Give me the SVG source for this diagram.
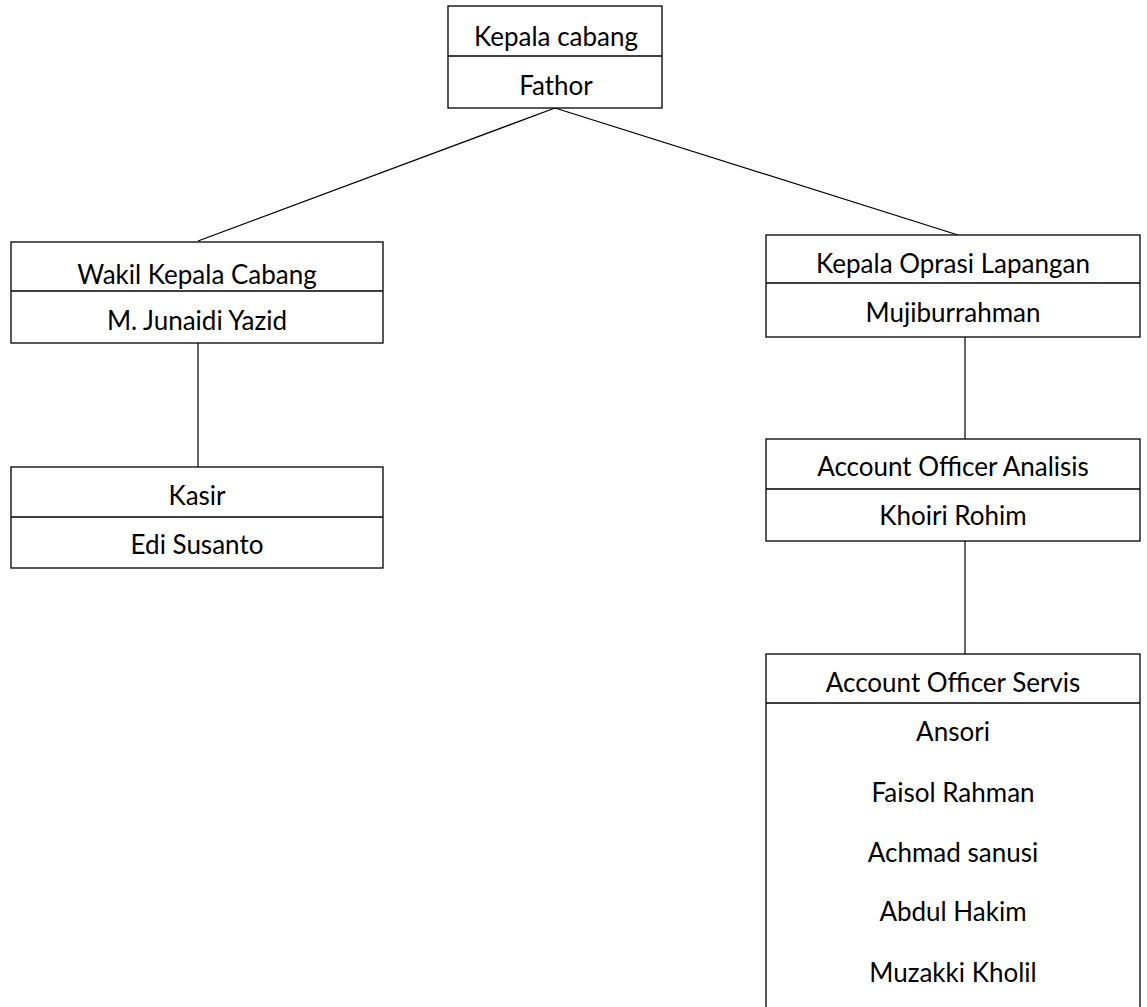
<svg xmlns="http://www.w3.org/2000/svg" width="1147" height="1007" viewBox="0 0 1147 1007">
<style>
.box{fill:#fff;stroke:#000;stroke-width:1.3}
.div{stroke:#000;stroke-width:1.3}
.t{font-family:Lato,"Liberation Sans",sans-serif;font-size:26px;fill:#000;text-anchor:middle}
.c{stroke:#000;stroke-width:1.2;fill:none}
</style>
<rect width="1147" height="1007" fill="#fff"/>
<g id="connectors">
<line class="c" x1="555" y1="108" x2="198" y2="241"/>
<line class="c" x1="555" y1="108" x2="958" y2="235"/>
<line class="c" x1="198" y1="343" x2="198" y2="467"/>
<line class="c" x1="965" y1="337" x2="965" y2="439"/>
<line class="c" x1="965" y1="541" x2="965" y2="654"/>
</g>
<g id="kepala-cabang">
<rect class="box" x="448" y="6" width="214" height="102"/>
<line class="div" x1="448" y1="56" x2="662" y2="56"/>
<text class="t" x="556" y="46">Kepala cabang</text>
<text class="t" x="556" y="95">Fathor</text>
</g>
<g id="wakil-kepala-cabang">
<rect class="box" x="11" y="242" width="372" height="101"/>
<line class="div" x1="11" y1="291" x2="383" y2="291"/>
<text class="t" x="197" y="284">Wakil Kepala Cabang</text>
<text class="t" x="197" y="330">M. Junaidi Yazid</text>
</g>
<g id="kasir">
<rect class="box" x="11" y="467" width="372" height="101"/>
<line class="div" x1="11" y1="517" x2="383" y2="517"/>
<text class="t" x="197" y="505">Kasir</text>
<text class="t" x="197" y="554">Edi Susanto</text>
</g>
<g id="kepala-oprasi-lapangan">
<rect class="box" x="766" y="235" width="374" height="102"/>
<line class="div" x1="766" y1="283" x2="1140" y2="283"/>
<text class="t" x="953" y="273">Kepala Oprasi Lapangan</text>
<text class="t" x="953" y="322">Mujiburrahman</text>
</g>
<g id="account-officer-analisis">
<rect class="box" x="766" y="439" width="374" height="102"/>
<line class="div" x1="766" y1="489" x2="1140" y2="489"/>
<text class="t" x="953" y="476">Account Officer Analisis</text>
<text class="t" x="953" y="525">Khoiri Rohim</text>
</g>
<g id="account-officer-servis">
<rect class="box" x="766" y="654" width="374" height="380"/>
<line class="div" x1="766" y1="703" x2="1140" y2="703"/>
<text class="t" x="953" y="692">Account Officer Servis</text>
<text class="t" x="953" y="741">Ansori</text>
<text class="t" x="953" y="802">Faisol Rahman</text>
<text class="t" x="953" y="862">Achmad sanusi</text>
<text class="t" x="953" y="921">Abdul Hakim</text>
<text class="t" x="953" y="982">Muzakki Kholil</text>
</g>
</svg>
